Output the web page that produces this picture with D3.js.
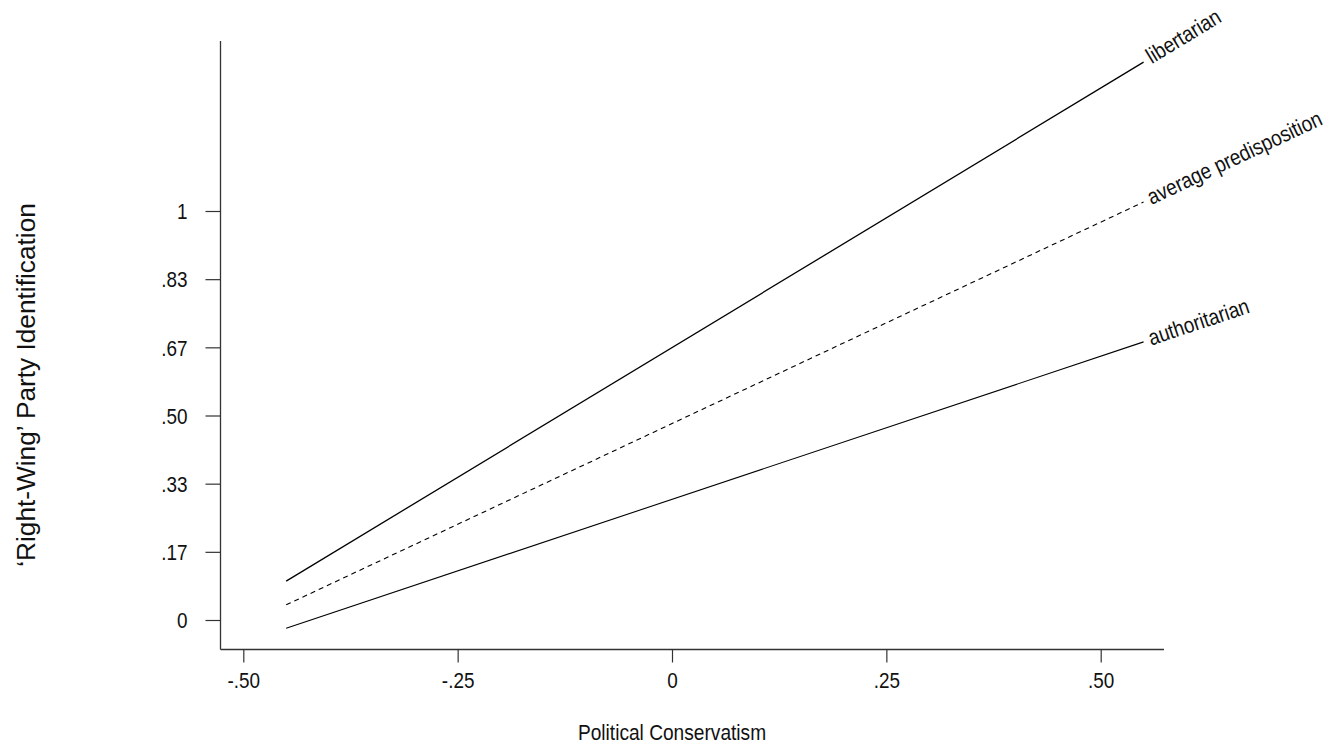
<!DOCTYPE html>
<html>
<head>
<meta charset="utf-8">
<script src="https://cdn.jsdelivr.net/npm/d3@7"></script>
<style>
  html, body { margin: 0; padding: 0; background: #fff; }
  svg { display: block; }
  text { font-family: "Liberation Sans", Arial, sans-serif; fill: #111; }
</style>
</head>
<body>
<svg id="chart" width="1344" height="747"></svg>
<script>
// ---- data ----
const xTickValues = [-0.5, -0.25, 0, 0.25, 0.5];
const xTickLabels = ["-.50", "-.25", "0", ".25", ".50"];
const yTickValues = [0, 1/6, 2/6, 3/6, 4/6, 5/6, 1];
const yTickLabels = ["0", ".17", ".33", ".50", ".67", ".83", "1"];
const conservatism = [-0.45, 0.55];
const libertarian = [0.095, 1.364];
const average = [0.037, 1.022];
const authoritarian = [-0.02, 0.68];
const seriesNames = ["libertarian", "average predisposition", "authoritarian"];
const xTitle = "Political Conservatism";
const yTitle = "\u2018Right-Wing\u2019 Party Identification";

// ---- scales ----
const x = d3.scaleLinear().domain([-0.5, 0.5]).range([243.3, 1100.7]);
const y = d3.scaleLinear().domain([0, 1]).range([620, 211]);
const plotLeft = 220.5, plotRight = 1164, plotTop = 41, plotBottom = 649.5;
const NARROW = 0.86;

const svg = d3.select("#chart");

// axis lines
svg.append("line").attr("x1", plotLeft).attr("x2", plotLeft)
  .attr("y1", plotTop).attr("y2", plotBottom).attr("stroke", "#333").attr("stroke-width", 1.3);
svg.append("line").attr("x1", plotLeft).attr("x2", plotRight)
  .attr("y1", plotBottom).attr("y2", plotBottom).attr("stroke", "#333").attr("stroke-width", 1.3);

// x axis ticks
const xAxis = d3.axisBottom(x).tickValues(xTickValues)
  .tickFormat((d, i) => xTickLabels[i]).tickSize(13).tickPadding(0);
const gx = svg.append("g").attr("transform", `translate(0,${plotBottom})`).call(xAxis);
gx.select(".domain").remove();
gx.selectAll(".tick line").attr("stroke", "#333").attr("stroke-width", 1.2);
gx.selectAll(".tick text").attr("font-size", 22).attr("fill", "#111")
  .attr("font-family", "'Liberation Sans',Arial,sans-serif")
  .attr("y", 0).attr("dy", 0)
  .attr("transform", `translate(0,38) scale(${NARROW},1)`);

// y axis ticks
const yAxis = d3.axisLeft(y).tickValues(yTickValues)
  .tickFormat((d, i) => yTickLabels[i]).tickSize(15).tickPadding(0);
const gy = svg.append("g").attr("transform", `translate(${plotLeft},0)`).call(yAxis);
gy.select(".domain").remove();
gy.selectAll(".tick line").attr("stroke", "#333").attr("stroke-width", 1.2);
gy.selectAll(".tick text").attr("font-size", 22).attr("fill", "#111")
  .attr("font-family", "'Liberation Sans',Arial,sans-serif")
  .attr("x", 0).attr("dy", "0.35em")
  .attr("transform", `translate(-33,0) scale(${NARROW},1)`);

// series
const series = [
  { name: seriesNames[0], vals: libertarian, dash: null, w: 1.3 },
  { name: seriesNames[1], vals: average, dash: "5,4", w: 1.1 },
  { name: seriesNames[2], vals: authoritarian, dash: null, w: 1.1 }
];
const line = d3.line().x(d => x(d[0])).y(d => y(d[1]));
series.forEach(s => {
  const pts = conservatism.map((c, i) => [c, s.vals[i]]);
  svg.append("path").attr("d", line(pts)).attr("fill", "none")
    .attr("stroke", "#000").attr("stroke-width", s.w)
    .attr("stroke-dasharray", s.dash);
  const x0 = x(pts[0][0]), y0 = y(pts[0][1]);
  const x1 = x(pts[1][0]), y1 = y(pts[1][1]);
  const ang = Math.atan2(y1 - y0, x1 - x0) * 180 / Math.PI;
  svg.append("text")
    .attr("transform", `translate(${x1},${y1}) rotate(${ang}) translate(6,6) scale(${NARROW},1)`)
    .attr("font-size", 22)
    .text(s.name);
});

// axis titles
svg.append("text").attr("transform", `translate(672,740) scale(0.87,1)`)
  .attr("text-anchor", "middle").attr("font-size", 22).text(xTitle);
svg.append("text").attr("transform", "translate(35,385) rotate(-90) scale(1.05,1)")
  .attr("text-anchor", "middle").attr("font-size", 25).text(yTitle);
</script>
</body>
</html>
